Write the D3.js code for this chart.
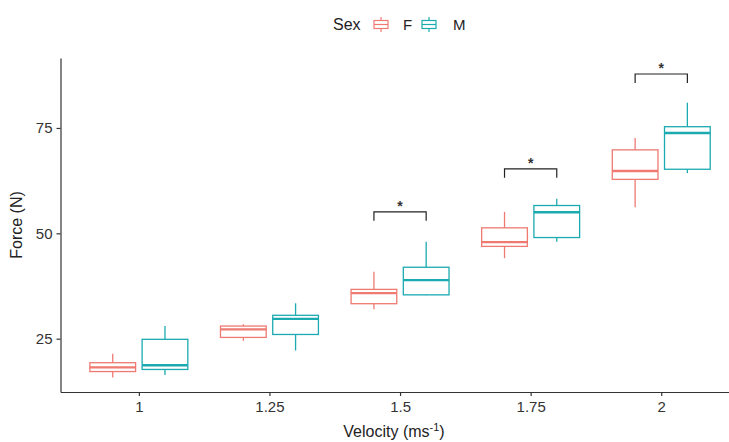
<!DOCTYPE html>
<html>
<head>
<meta charset="utf-8">
<script src="https://cdn.jsdelivr.net/npm/d3@7"></script>
<style>
  html, body { margin: 0; padding: 0; background: #fff; }
  svg { display: block; font-family: Arial, "Liberation Sans", sans-serif; }
</style>
</head>
<body>
<svg id="chart" width="729" height="442"></svg>
<script>
const velocities = ["1", "1.25", "1.5", "1.75", "2"]
const sexes = ["F", "M"]
const sexColors = ["#EE7A72", "#1CAAB1"]

// box stats per velocity
const fLow = [15.8, 24.5, 32.0, 44.1, 56.2]
const fQ1 = [17.2, 25.3, 33.3, 46.9, 62.8]
const fMed = [18.2, 27.2, 35.8, 47.9, 64.8]
const fQ3 = [19.3, 28.0, 36.7, 51.3, 69.8]
const fHigh = [21.4, 28.4, 40.9, 55.1, 72.6]

const mLow = [16.4, 22.2, 35.3, 48.0, 64.3]
const mQ1 = [17.7, 26.0, 35.4, 49.0, 65.2]
const mMed = [18.7, 29.7, 38.9, 55.0, 73.8]
const mQ3 = [24.85, 30.55, 41.95, 56.6, 75.3]
const mHigh = [28.0, 33.4, 48.0, 58.2, 81.0]

// significance brackets
const sigVelocity = ["1.5", "1.75", "2"]
const sigY = [55.1, 65.3, 87.8]
const sigLabel = ["*", "*", "*"]

const yTicks = [25, 50, 75]

const svg = d3.select("#chart")
const m = {left: 60.5, top: 58, bottom: 392}

const x = d3.scalePoint().domain(velocities).range([m.left, 739.6]).padding(0.6)
const step = x.step()
const y = d3.scaleLinear().domain([12.35, 91.6]).range([m.bottom, m.top])

const boxes = []
velocities.forEach((v, i) => {
  boxes.push({v, sex: "F", low: fLow[i], q1: fQ1[i], med: fMed[i], q3: fQ3[i], high: fHigh[i]})
  boxes.push({v, sex: "M", low: mLow[i], q1: mQ1[i], med: mMed[i], q3: mQ3[i], high: mHigh[i]})
})
const color = d3.scaleOrdinal().domain(sexes).range(sexColors)
const bw = step * 0.35
const dodge = (s) => (s === "F" ? -0.2 : 0.2) * step

const g = svg.append("g")
const bg = g.selectAll("g.box").data(boxes).join("g").attr("class", "box")
  .attr("transform", (d) => `translate(${x(d.v) + dodge(d.sex)},0)`)
  .attr("stroke", (d) => color(d.sex))
  .attr("fill", "none")

bg.append("line").attr("x1", 0).attr("x2", 0)
  .attr("y1", (d) => y(d.high)).attr("y2", (d) => y(d.q3)).attr("stroke-width", 1.3)
bg.append("line").attr("x1", 0).attr("x2", 0)
  .attr("y1", (d) => y(d.q1)).attr("y2", (d) => y(d.low)).attr("stroke-width", 1.3)
bg.append("rect")
  .attr("x", -bw / 2).attr("width", bw)
  .attr("y", (d) => y(d.q3)).attr("height", (d) => y(d.q1) - y(d.q3))
  .attr("fill", "#fff").attr("stroke-width", 1.3)
bg.append("line").attr("x1", -bw / 2).attr("x2", bw / 2)
  .attr("y1", (d) => y(d.med)).attr("y2", (d) => y(d.med)).attr("stroke-width", 2.4)

// significance brackets
const sig = sigVelocity.map((v, i) => ({v, y: sigY[i], label: sigLabel[i]}))
const sg = g.selectAll("g.sig").data(sig).join("g").attr("class", "sig")
sg.append("path")
  .attr("fill", "none").attr("stroke", "#222").attr("stroke-width", 1.2)
  .attr("d", (d) => {
    const x0 = x(d.v) + dodge("F"), x1 = x(d.v) + dodge("M"), yy = y(d.y)
    return `M${x0},${yy + 9}V${yy}H${x1}V${yy + 9}`
  })
sg.append("text")
  .attr("x", (d) => x(d.v)).attr("y", (d) => y(d.y) - 1)
  .attr("text-anchor", "middle").attr("font-size", 14).attr("font-weight", "bold").attr("fill", "#333")
  .text((d) => d.label)

// axes
const xAxis = svg.append("g").attr("transform", `translate(0,${m.bottom})`)
  .call(d3.axisBottom(x).tickSize(4).tickPadding(5).tickSizeOuter(0))
const yAxis = svg.append("g").attr("transform", `translate(${m.left},0)`)
  .call(d3.axisLeft(y).tickValues(yTicks).tickSize(4).tickPadding(4).tickSizeOuter(0))
for (const ax of [xAxis, yAxis]) {
  ax.select(".domain").attr("stroke", "#333").attr("stroke-width", 1.2)
  ax.selectAll(".tick line").attr("stroke", "#333").attr("stroke-width", 1.2)
  ax.selectAll("text").attr("font-size", 15).attr("fill", "#333")
    .attr("font-family", "Arial, 'Liberation Sans', sans-serif")
}

svg.append("text")
  .attr("transform", `translate(22,${(m.top + m.bottom) / 2}) rotate(-90)`)
  .attr("text-anchor", "middle").attr("font-size", 16).attr("fill", "#222")
  .text("Force (N)")

const xt = svg.append("text")
  .attr("x", 394).attr("y", 437)
  .attr("text-anchor", "middle").attr("font-size", 16).attr("fill", "#222")
xt.append("tspan").text("Velocity (ms")
xt.append("tspan").attr("dy", -6).attr("font-size", 11).text("-1")
xt.append("tspan").attr("dy", 6).text(")")

// legend
const lg = svg.append("g").attr("transform", "translate(333,0)")
lg.append("text").attr("x", 0).attr("y", 30).attr("font-size", 16).attr("fill", "#222").text("Sex")
const keys = lg.selectAll("g.key").data(sexes).join("g").attr("class", "key")
  .attr("transform", (d, i) => `translate(${41 + i * 48},0)`)
  .attr("stroke", (d) => color(d)).attr("fill", "none").attr("stroke-width", 1.2)
keys.append("line").attr("x1", 7).attr("x2", 7).attr("y1", 17).attr("y2", 32)
keys.append("rect").attr("x", 0).attr("y", 20.5).attr("width", 14).attr("height", 8).attr("fill", "#fff")
keys.append("line").attr("x1", 0).attr("x2", 14).attr("y1", 24.5).attr("y2", 24.5)
keys.append("text").attr("x", (d, i) => (i === 0 ? 29 : 31)).attr("y", 30)
  .attr("stroke", "none").attr("fill", "#222").attr("font-size", 15).text((d) => d)
</script>
</body>
</html>
